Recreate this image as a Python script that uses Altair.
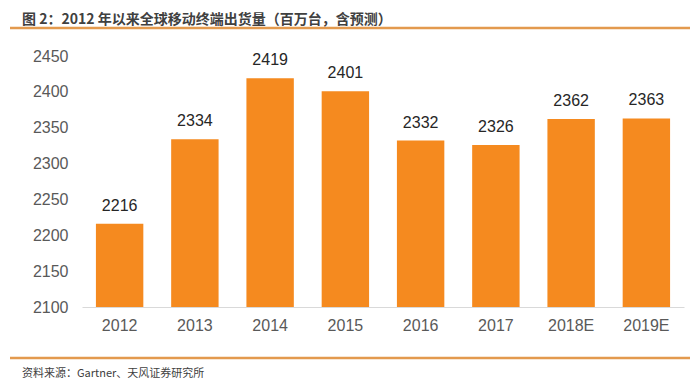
import altair as alt
import pandas as pd

years = ["2012", "2013", "2014", "2015", "2016", "2017", "2018E", "2019E"]
shipments = [2216, 2334, 2419, 2401, 2332, 2326, 2362, 2363]
y_ticks = [2100, 2150, 2200, 2250, 2300, 2350, 2400, 2450]
title_text = "图 2：2012 年以来全球移动终端出货量（百万台，含预测）"
source_text = "资料来源：Gartner、天风证券研究所"

df = pd.DataFrame({"year": years, "value": shipments})

W, H = 602, 251
LEFT, TOP = 74, 48
BOTTOM = 389 - 8 - (TOP + H + 8)
RIGHT = 698 - 16 - (LEFT + W)
FONT = "Noto Sans CJK SC"

x_enc = alt.X("year:N", sort=years,
              scale=alt.Scale(paddingInner=0.37, paddingOuter=0.185),
              axis=alt.Axis(title=None, labelFontSize=16, labelColor="#595959",
                            labelFont="Liberation Sans", labelPadding=10,
                            domainColor="#D9D9D9", ticks=False, labelAngle=0))
y_enc = alt.Y("value:Q", scale=alt.Scale(domain=[2100, 2450], zero=False, nice=False),
              axis=alt.Axis(title=None, values=y_ticks, format="d", labelFontSize=16,
                            labelColor="#595959", labelFont="Liberation Sans",
                            labelOverlap=False, labelFlush=False,
                            domain=False, ticks=False, grid=False, labelPadding=14))

base = alt.Chart(df).encode(x=x_enc, y=y_enc)
bars = base.mark_bar(color="#F58A1F", clip=True)
labels = base.mark_text(dy=-10, baseline="bottom", fontSize=16, color="#262626",
                        font="Liberation Sans").encode(text="value:Q")

deco = pd.DataFrame({"k": [0]})
top_rule = alt.Chart(deco).mark_rule(color="#E39A4E", strokeWidth=2.5).encode(
    x=alt.value(2 - LEFT), x2=alt.value(690 - 8 - LEFT), y=alt.value(28 - 8 - TOP))
bot_rule = alt.Chart(deco).mark_rule(color="#E39A4E", strokeWidth=2.5).encode(
    x=alt.value(2 - LEFT), x2=alt.value(690 - 8 - LEFT), y=alt.value(358 - 8 - TOP))
title = alt.Chart(deco).mark_text(text=title_text, align="left", baseline="middle",
                                  fontSize=14, fontWeight="bold", color="#404040", font=FONT).encode(
    x=alt.value(22 - 8 - LEFT), y=alt.value(20 - 8 - TOP))
source = alt.Chart(deco).mark_text(text=source_text, align="left", baseline="middle",
                                   fontSize=11, color="#404040", font=FONT).encode(
    x=alt.value(22 - 8 - LEFT), y=alt.value(374 - 8 - TOP))

chart = alt.layer(bars, labels, top_rule, bot_rule, title, source).properties(
    width=W, height=H,
    autosize=alt.AutoSizeParams(type="none"),
    padding={"left": LEFT, "top": TOP, "right": RIGHT, "bottom": BOTTOM},
).configure(background="white", view=alt.ViewConfig(stroke=None))

chart.save("out.html", embed_options={"renderer": "svg", "actions": False})
